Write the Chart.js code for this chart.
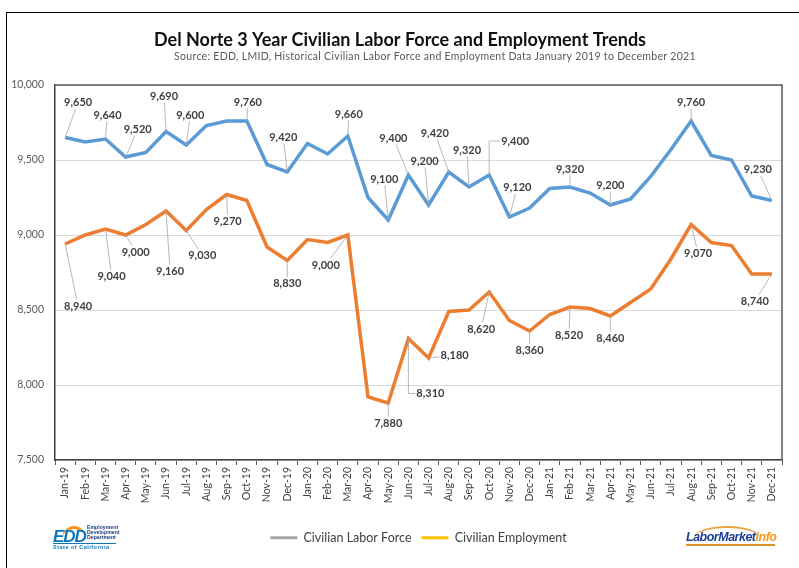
<!DOCTYPE html>
<html>
<head>
<meta charset="utf-8">
<script src="https://cdn.jsdelivr.net/npm/chart.js@4.4.0/dist/chart.umd.min.js"></script>
<style>
  html, body { margin: 0; padding: 0; background: #fff; }
  #wrap { position: relative; width: 799px; height: 568px; overflow: hidden; }
  #frame { position: absolute; left: 6px; top: 12px; width: 900px; height: 700px; border: 1.5px solid #000; box-sizing: border-box; }
  #c { position: absolute; left: 0; top: 0; }
  #edd { position: absolute; left: 53px; top: 525px; width: 64px; height: 24px; font-family: 'Liberation Sans', Arial, sans-serif; }
  #edd .swoosh { position: absolute; left: 9px; top: 1px; width: 24px; height: 10px; border-top: 3px solid #f7941d; border-radius: 50% / 100% 100% 0 0; }
  #edd .big { position: absolute; left: 0; top: 2px; font: italic bold 17px 'Liberation Sans', Arial; color: #0f75bc; letter-spacing: -1px; }
  #edd .small { position: absolute; left: 34px; top: 0; font: bold 5.2px/5px 'Liberation Sans', Arial; color: #1b3f7a; white-space: nowrap; }
  #edd .state { position: absolute; left: 0; top: 18px; width: 63px; border-top: 1px solid #0f75bc; font: bold 5.5px/6px 'Liberation Sans', Arial; color: #0f75bc; letter-spacing: 0.5px; white-space: nowrap; }
  #lmi { position: absolute; left: 686px; top: 524px; width: 90px; height: 22px; }
  #lmi .arc { position: absolute; left: 8px; top: 2px; width: 66px; height: 10px; border-top: 2px solid #e8a33c; border-radius: 50% / 100% 100% 0 0; }
  #lmi .txt { position: absolute; left: 0; top: 6px; font: italic bold 12.5px 'Liberation Sans', Arial; color: #1c3f94; letter-spacing: -0.5px; white-space: nowrap; }
  #lmi .txt span { color: #f39a1e; }
  #lmi .under { position: absolute; left: 0; top: 20px; width: 89px; height: 2px; background: #d9962b; }
</style>
</head>
<body>
<div id="wrap">
  <div id="frame"></div>
  <canvas id="c" width="799" height="568"></canvas>
  <div id="edd">
    <div class="swoosh"></div>
    <div class="big">EDD</div>
    <div class="small">Employment<br>Development<br>Department</div>
    <div class="state">State of California</div>
  </div>
  <div id="lmi">
    <div class="arc"></div>
    <div class="txt">LaborMarket<span>info</span></div>
    <div class="under"></div>
  </div>
</div>
<script>
var chartTitle = 'Del Norte 3 Year Civilian Labor Force and Employment Trends';
var chartSubtitle = 'Source: EDD, LMID, Historical Civilian Labor Force and Employment Data January 2019 to December 2021';

var months = ['Jan-19', 'Feb-19', 'Mar-19', 'Apr-19', 'May-19', 'Jun-19', 'Jul-19', 'Aug-19', 'Sep-19', 'Oct-19', 'Nov-19', 'Dec-19',
              'Jan-20', 'Feb-20', 'Mar-20', 'Apr-20', 'May-20', 'Jun-20', 'Jul-20', 'Aug-20', 'Sep-20', 'Oct-20', 'Nov-20', 'Dec-20',
              'Jan-21', 'Feb-21', 'Mar-21', 'Apr-21', 'May-21', 'Jun-21', 'Jul-21', 'Aug-21', 'Sep-21', 'Oct-21', 'Nov-21', 'Dec-21'];

var laborForce = [9650, 9620, 9640, 9520, 9550, 9690, 9600, 9730, 9760, 9760, 9470, 9420,
                  9610, 9540, 9660, 9250, 9100, 9400, 9200, 9420, 9320, 9400, 9120, 9180,
                  9310, 9320, 9280, 9200, 9240, 9390, 9570, 9760, 9530, 9500, 9260, 9230];

var employment = [8940, 9000, 9040, 9000, 9070, 9160, 9030, 9170, 9270, 9230, 8920, 8830,
                  8970, 8950, 9000, 7920, 7880, 8310, 8180, 8490, 8500, 8620, 8430, 8360,
                  8470, 8520, 8510, 8460, 8550, 8640, 8840, 9070, 8950, 8930, 8740, 8740];

// which points get a value label, and where it sits (pixel offset from the point)
var laborLabelPos = {
  0: [13, -35], 2: [2, -24], 3: [12, -28], 5: [-2, -35], 6: [4, -30], 9: [1, -19],
  11: [-4, -35], 14: [1, -22], 16: [-4, -41], 17: [-15, -37], 18: [-4, -44], 19: [-14, -39],
  20: [-2, -37], 21: [26, -34, 'elbow'], 22: [8, -30], 25: [0, -18], 27: [0, -20], 31: [0, -19], 35: [-14, -31]
};
var employmentLabelPos = {
  0: [13, 62], 2: [6, 47], 3: [10, 17], 5: [4, 60], 6: [16, 25], 8: [1, 27],
  11: [0, 23], 14: [-22, 30], 16: [0, 20], 17: [22, 55, 'elbow'], 18: [26, -3], 21: [-8, 37],
  23: [0, 19], 25: [-1, 28], 27: [0, 22], 31: [7, 29], 35: [-17, 27]
};

var legendColors = ['#a5a5a5', '#ffc000'];

function fmt(v) {
  return v.toLocaleString('en-US');
}

var titlePlugin = {
  id: 'titles',
  afterDraw: function(chart) {
    var ctx = chart.ctx;
    ctx.save();
    ctx.textAlign = 'center';
    ctx.textBaseline = 'middle';
    ctx.fillStyle = '#111';
    ctx.font = 'bold 18px Lato';
    ctx.fillText(chartTitle, 400, 40);
    ctx.fillStyle = '#595959';
    ctx.font = '10.5px Lato';
    ctx.letterSpacing = '0.3px';
    ctx.fillText(chartSubtitle, 435, 57);
    ctx.restore();
  }
};

// top and right edges of the plot area
var borderPlugin = {
  id: 'plotBorder',
  beforeDatasetsDraw: function(chart) {
    var a = chart.chartArea, ctx = chart.ctx;
    ctx.save();
    ctx.strokeStyle = '#595959';
    ctx.lineWidth = 1.5;
    ctx.beginPath();
    ctx.moveTo(a.left, a.top);
    ctx.lineTo(a.right, a.top);
    ctx.lineTo(a.right, a.bottom);
    ctx.stroke();
    ctx.restore();
  }
};

var labelPlugin = {
  id: 'valueLabels',
  afterDatasetsDraw: function(chart) {
    var ctx = chart.ctx;
    var sets = [laborLabelPos, employmentLabelPos];
    ctx.save();
    ctx.font = 'bold 11px Lato';
    ctx.textAlign = 'center';
    ctx.textBaseline = 'middle';
    sets.forEach(function(pos, di) {
      var meta = chart.getDatasetMeta(di);
      var values = chart.data.datasets[di].data;
      Object.keys(pos).forEach(function(k) {
        var i = +k, p = meta.data[i];
        var off = pos[k];
        var txt = fmt(values[i]);
        var cx = p.x + off[0], cy = p.y + off[1];
        var hw = ctx.measureText(txt).width / 2 + 1, hh = 6.5;
        ctx.strokeStyle = '#a6a6a6';
        ctx.lineWidth = 0.8;
        ctx.beginPath();
        if (off[2] === 'elbow') {
          var ex = off[0] > 0 ? cx - hw : cx + hw;
          ctx.moveTo(p.x, p.y);
          ctx.lineTo(p.x, cy);
          ctx.lineTo(ex, cy);
          ctx.stroke();
        } else {
          var dx = p.x - cx, dy = p.y - cy;
          var t = Math.min(dx !== 0 ? hw / Math.abs(dx) : Infinity, dy !== 0 ? hh / Math.abs(dy) : Infinity);
          if (t < 0.8) {
            ctx.moveTo(p.x, p.y);
            ctx.lineTo(cx + dx * t, cy + dy * t);
            ctx.stroke();
          }
        }
        ctx.fillStyle = '#404040';
        ctx.fillText(txt, cx, cy);
      });
    });
    ctx.restore();
  }
};

new Chart(document.getElementById('c'), {
  type: 'line',
  data: {
    labels: months,
    datasets: [{
      label: 'Civilian Labor Force',
      data: laborForce,
      borderColor: '#5b9bd5',
      backgroundColor: '#5b9bd5',
      borderWidth: 3.5,
      pointRadius: 0,
      tension: 0
    }, {
      label: 'Civilian Employment',
      data: employment,
      borderColor: '#ed7d31',
      backgroundColor: '#ed7d31',
      borderWidth: 3.5,
      pointRadius: 0,
      tension: 0
    }]
  },
  options: {
    responsive: false,
    animation: false,
    events: [],
    layout: { padding: { top: 85, left: 0, right: 17, bottom: 14 } },
    plugins: {
      title: { display: false },
      tooltip: { enabled: false },
      legend: {
        position: 'bottom',
        fullSize: false,
        labels: {
          font: { family: 'Lato', size: 12.5 },
          color: '#404040',
          boxWidth: 27,
          boxHeight: 3,
          padding: 10,
          generateLabels: function(chart) {
            return chart.data.datasets.map(function(ds, i) {
              return {
                text: ds.label,
                fillStyle: legendColors[i],
                strokeStyle: legendColors[i],
                lineWidth: 0,
                fontColor: '#404040',
                hidden: false,
                datasetIndex: i
              };
            });
          }
        }
      }
    },
    scales: {
      x: {
        offset: true,
        grid: { display: true, offset: true, drawOnChartArea: false, drawTicks: true, tickLength: 5, color: '#595959' },
        border: { display: true, color: '#404040', width: 1.5 },
        ticks: {
          autoSkip: false, maxRotation: 90, minRotation: 90, padding: 2,
          color: '#404040', font: { family: 'Lato', size: 10.5 }
        },
        afterFit: function(scale) { scale.height = 61.5; }
      },
      y: {
        min: 7500,
        max: 10000,
        grid: { color: '#d9d9d9', drawTicks: false },
        border: { display: true, color: '#404040', width: 1.5 },
        ticks: {
          stepSize: 500, padding: 11, color: '#595959',
          font: { family: 'Lato', size: 10.5 },
          callback: function(v) { return fmt(v); }
        },
        afterFit: function(scale) { scale.width = 55; }
      }
    }
  },
  plugins: [borderPlugin, labelPlugin, titlePlugin]
});
</script>
</body>
</html>
